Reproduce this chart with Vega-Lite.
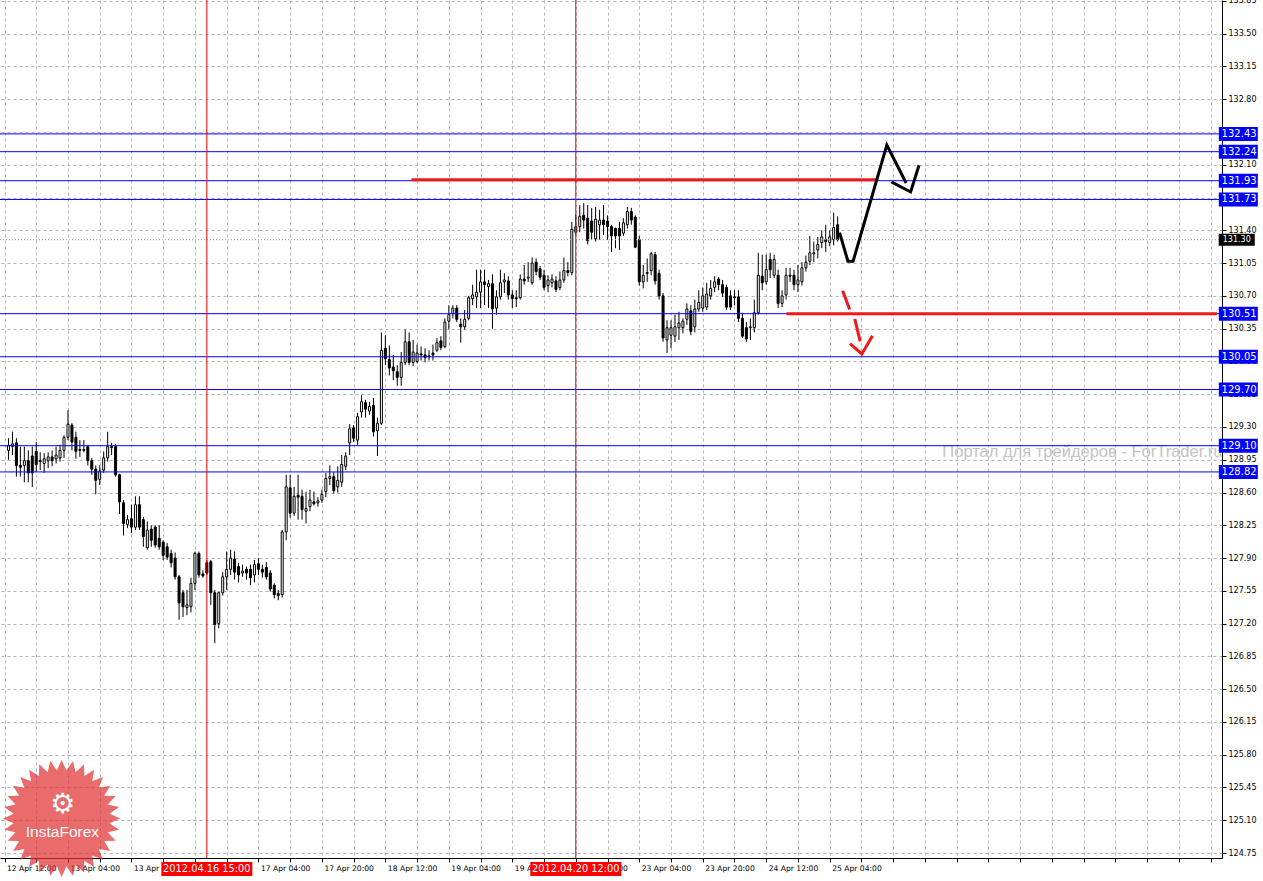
{
  "$schema": "https://vega.github.io/schema/vega-lite/v6.json",
  "width": 1222,
  "height": 858,
  "autosize": {"type": "none"},
  "padding": {"left": 0, "top": 0, "right": 41, "bottom": 23},
  "background": "#ffffff",
  "config": {"view": {"stroke": null}},
  "resolve": {"axis": {"x": "independent", "y": "independent"}},
  "datasets": {
    "candles": [
      {"i":0,"o":129.05,"h":129.18,"l":128.95,"c":129.10},
      {"i":1,"o":129.09,"h":129.25,"l":129.00,"c":129.12},
      {"i":2,"o":129.13,"h":129.18,"l":128.77,"c":128.89},
      {"i":3,"o":128.89,"h":129.09,"l":128.77,"c":128.87},
      {"i":4,"o":128.89,"h":129.09,"l":128.71,"c":128.94},
      {"i":5,"o":128.94,"h":129.05,"l":128.71,"c":128.81},
      {"i":6,"o":128.99,"h":129.09,"l":128.66,"c":128.81},
      {"i":7,"o":129.04,"h":129.14,"l":128.82,"c":128.90},
      {"i":8,"o":128.94,"h":129.03,"l":128.84,"c":128.93},
      {"i":9,"o":128.91,"h":129.02,"l":128.81,"c":128.96},
      {"i":10,"o":128.94,"h":129.03,"l":128.86,"c":128.98},
      {"i":11,"o":128.98,"h":129.05,"l":128.88,"c":128.94},
      {"i":12,"o":128.96,"h":129.09,"l":128.91,"c":129.00},
      {"i":13,"o":128.97,"h":129.11,"l":128.93,"c":129.05},
      {"i":14,"o":129.05,"h":129.21,"l":128.97,"c":129.19},
      {"i":15,"o":129.19,"h":129.48,"l":129.16,"c":129.33},
      {"i":16,"o":129.32,"h":129.34,"l":129.05,"c":129.14},
      {"i":17,"o":129.19,"h":129.25,"l":128.96,"c":129.04},
      {"i":18,"o":129.06,"h":129.16,"l":128.98,"c":129.05},
      {"i":19,"o":129.05,"h":129.16,"l":129.03,"c":129.06},
      {"i":20,"o":129.09,"h":129.10,"l":128.89,"c":128.94},
      {"i":21,"o":128.94,"h":128.97,"l":128.79,"c":128.85},
      {"i":22,"o":128.85,"h":128.89,"l":128.58,"c":128.73},
      {"i":23,"o":128.74,"h":128.89,"l":128.68,"c":128.83},
      {"i":24,"o":128.84,"h":129.04,"l":128.81,"c":128.97},
      {"i":25,"o":128.97,"h":129.25,"l":128.93,"c":129.09},
      {"i":26,"o":129.09,"h":129.13,"l":129.00,"c":129.08},
      {"i":27,"o":129.09,"h":129.12,"l":128.77,"c":128.79},
      {"i":28,"o":128.79,"h":128.80,"l":128.37,"c":128.50},
      {"i":29,"o":128.49,"h":128.52,"l":128.14,"c":128.27},
      {"i":30,"o":128.26,"h":128.36,"l":128.22,"c":128.31},
      {"i":31,"o":128.32,"h":128.47,"l":128.17,"c":128.23},
      {"i":32,"o":128.23,"h":128.56,"l":128.20,"c":128.47},
      {"i":33,"o":128.47,"h":128.56,"l":128.20,"c":128.23},
      {"i":34,"o":128.31,"h":128.34,"l":128.02,"c":128.13},
      {"i":35,"o":128.01,"h":128.29,"l":127.99,"c":128.20},
      {"i":36,"o":128.21,"h":128.25,"l":128.02,"c":128.09},
      {"i":37,"o":128.23,"h":128.25,"l":128.01,"c":128.04},
      {"i":38,"o":128.11,"h":128.25,"l":127.99,"c":128.02},
      {"i":39,"o":128.07,"h":128.09,"l":127.88,"c":127.93},
      {"i":40,"o":128.02,"h":128.06,"l":127.88,"c":127.91},
      {"i":41,"o":127.95,"h":127.99,"l":127.80,"c":127.85},
      {"i":42,"o":127.90,"h":127.96,"l":127.67,"c":127.70},
      {"i":43,"o":127.70,"h":127.72,"l":127.24,"c":127.42},
      {"i":44,"o":127.53,"h":127.56,"l":127.27,"c":127.38},
      {"i":45,"o":127.37,"h":127.56,"l":127.29,"c":127.40},
      {"i":46,"o":127.38,"h":127.69,"l":127.32,"c":127.63},
      {"i":47,"o":127.63,"h":127.97,"l":127.56,"c":127.95},
      {"i":48,"o":127.95,"h":127.97,"l":127.69,"c":127.72},
      {"i":49,"o":127.73,"h":127.77,"l":127.69,"c":127.71},
      {"i":50,"o":127.85,"h":127.88,"l":127.72,"c":127.74},
      {"i":51,"o":127.86,"h":127.88,"l":127.40,"c":127.53},
      {"i":52,"o":127.53,"h":127.56,"l":126.99,"c":127.19},
      {"i":53,"o":127.20,"h":127.54,"l":127.15,"c":127.53},
      {"i":54,"o":127.53,"h":127.75,"l":127.50,"c":127.70},
      {"i":55,"o":127.70,"h":127.97,"l":127.56,"c":127.78},
      {"i":56,"o":127.78,"h":127.99,"l":127.72,"c":127.90},
      {"i":57,"o":127.89,"h":127.97,"l":127.67,"c":127.75},
      {"i":58,"o":127.81,"h":127.85,"l":127.64,"c":127.72},
      {"i":59,"o":127.74,"h":127.83,"l":127.70,"c":127.76},
      {"i":60,"o":127.78,"h":127.81,"l":127.67,"c":127.74},
      {"i":61,"o":127.78,"h":127.83,"l":127.61,"c":127.69},
      {"i":62,"o":127.72,"h":127.88,"l":127.64,"c":127.83},
      {"i":63,"o":127.84,"h":127.90,"l":127.72,"c":127.78},
      {"i":64,"o":127.78,"h":127.83,"l":127.69,"c":127.75},
      {"i":65,"o":127.80,"h":127.86,"l":127.67,"c":127.70},
      {"i":66,"o":127.74,"h":127.77,"l":127.54,"c":127.57},
      {"i":67,"o":127.61,"h":127.63,"l":127.47,"c":127.51},
      {"i":68,"o":127.52,"h":127.56,"l":127.45,"c":127.50},
      {"i":69,"o":127.51,"h":128.20,"l":127.48,"c":128.18},
      {"i":70,"o":128.18,"h":128.79,"l":128.09,"c":128.66},
      {"i":71,"o":128.65,"h":128.79,"l":128.33,"c":128.38},
      {"i":72,"o":128.38,"h":128.66,"l":128.35,"c":128.56},
      {"i":73,"o":128.57,"h":128.79,"l":128.31,"c":128.55},
      {"i":74,"o":128.56,"h":128.63,"l":128.31,"c":128.42},
      {"i":75,"o":128.40,"h":128.61,"l":128.27,"c":128.43},
      {"i":76,"o":128.45,"h":128.63,"l":128.40,"c":128.52},
      {"i":77,"o":128.50,"h":128.61,"l":128.46,"c":128.48},
      {"i":78,"o":128.49,"h":128.55,"l":128.45,"c":128.51},
      {"i":79,"o":128.52,"h":128.63,"l":128.49,"c":128.58},
      {"i":80,"o":128.61,"h":128.81,"l":128.55,"c":128.75},
      {"i":81,"o":128.75,"h":128.89,"l":128.68,"c":128.77},
      {"i":82,"o":128.77,"h":128.82,"l":128.59,"c":128.62},
      {"i":83,"o":128.66,"h":128.88,"l":128.60,"c":128.73},
      {"i":84,"o":128.71,"h":129.00,"l":128.66,"c":128.90},
      {"i":85,"o":128.88,"h":129.03,"l":128.84,"c":128.99},
      {"i":86,"o":129.13,"h":129.33,"l":129.00,"c":129.28},
      {"i":87,"o":129.29,"h":129.32,"l":129.14,"c":129.18},
      {"i":88,"o":129.16,"h":129.45,"l":129.11,"c":129.41},
      {"i":89,"o":129.46,"h":129.64,"l":129.40,"c":129.57},
      {"i":90,"o":129.56,"h":129.59,"l":129.40,"c":129.49},
      {"i":91,"o":129.47,"h":129.57,"l":129.43,"c":129.52},
      {"i":92,"o":129.53,"h":129.61,"l":129.20,"c":129.25},
      {"i":93,"o":129.26,"h":129.40,"l":128.99,"c":129.34},
      {"i":94,"o":129.34,"h":130.31,"l":129.32,"c":130.12},
      {"i":95,"o":130.14,"h":130.28,"l":129.96,"c":130.03},
      {"i":96,"o":130.02,"h":130.17,"l":129.85,"c":129.93},
      {"i":97,"o":129.94,"h":130.07,"l":129.80,"c":129.90},
      {"i":98,"o":129.89,"h":129.96,"l":129.74,"c":129.83},
      {"i":99,"o":129.83,"h":130.10,"l":129.74,"c":129.99},
      {"i":100,"o":129.99,"h":130.34,"l":129.96,"c":130.21},
      {"i":101,"o":130.21,"h":130.31,"l":129.96,"c":129.99},
      {"i":102,"o":129.99,"h":130.23,"l":129.95,"c":130.10},
      {"i":103,"o":130.00,"h":130.18,"l":129.98,"c":130.09},
      {"i":104,"o":130.08,"h":130.16,"l":130.01,"c":130.07},
      {"i":105,"o":130.07,"h":130.14,"l":129.99,"c":130.04},
      {"i":106,"o":130.05,"h":130.12,"l":130.01,"c":130.06},
      {"i":107,"o":130.09,"h":130.18,"l":130.01,"c":130.07},
      {"i":108,"o":130.12,"h":130.25,"l":130.10,"c":130.20},
      {"i":109,"o":130.22,"h":130.27,"l":130.12,"c":130.15},
      {"i":110,"o":130.16,"h":130.46,"l":130.14,"c":130.42},
      {"i":111,"o":130.43,"h":130.60,"l":130.34,"c":130.50},
      {"i":112,"o":130.51,"h":130.60,"l":130.46,"c":130.57},
      {"i":113,"o":130.57,"h":130.60,"l":130.42,"c":130.45},
      {"i":114,"o":130.40,"h":130.46,"l":130.20,"c":130.37},
      {"i":115,"o":130.37,"h":130.55,"l":130.34,"c":130.45},
      {"i":116,"o":130.46,"h":130.70,"l":130.44,"c":130.68},
      {"i":117,"o":130.67,"h":130.82,"l":130.60,"c":130.71},
      {"i":118,"o":130.69,"h":130.98,"l":130.57,"c":130.74},
      {"i":119,"o":130.74,"h":130.98,"l":130.57,"c":130.85},
      {"i":120,"o":130.85,"h":130.98,"l":130.60,"c":130.82},
      {"i":121,"o":130.80,"h":130.87,"l":130.57,"c":130.83},
      {"i":122,"o":130.83,"h":130.93,"l":130.35,"c":130.56},
      {"i":123,"o":130.57,"h":130.76,"l":130.50,"c":130.69},
      {"i":124,"o":130.69,"h":130.98,"l":130.66,"c":130.84},
      {"i":125,"o":130.85,"h":130.94,"l":130.73,"c":130.87},
      {"i":126,"o":130.86,"h":130.91,"l":130.66,"c":130.71},
      {"i":127,"o":130.71,"h":130.76,"l":130.57,"c":130.67},
      {"i":128,"o":130.68,"h":130.76,"l":130.58,"c":130.67},
      {"i":129,"o":130.68,"h":130.93,"l":130.66,"c":130.88},
      {"i":130,"o":130.88,"h":131.03,"l":130.82,"c":130.86},
      {"i":131,"o":130.89,"h":131.06,"l":130.85,"c":130.90},
      {"i":132,"o":130.84,"h":131.11,"l":130.82,"c":131.05},
      {"i":133,"o":131.06,"h":131.10,"l":130.92,"c":130.96},
      {"i":134,"o":130.99,"h":131.02,"l":130.87,"c":130.90},
      {"i":135,"o":130.92,"h":130.98,"l":130.76,"c":130.79},
      {"i":136,"o":130.81,"h":130.92,"l":130.74,"c":130.87},
      {"i":137,"o":130.84,"h":130.93,"l":130.79,"c":130.88},
      {"i":138,"o":130.86,"h":130.91,"l":130.74,"c":130.77},
      {"i":139,"o":130.79,"h":130.96,"l":130.76,"c":130.87},
      {"i":140,"o":130.87,"h":131.11,"l":130.84,"c":130.97},
      {"i":141,"o":130.97,"h":131.06,"l":130.91,"c":130.95},
      {"i":142,"o":130.95,"h":131.49,"l":130.92,"c":131.41},
      {"i":143,"o":131.38,"h":131.57,"l":131.35,"c":131.44},
      {"i":144,"o":131.44,"h":131.67,"l":131.38,"c":131.55},
      {"i":145,"o":131.56,"h":131.69,"l":131.42,"c":131.51},
      {"i":146,"o":131.53,"h":131.67,"l":131.25,"c":131.29},
      {"i":147,"o":131.50,"h":131.64,"l":131.30,"c":131.38},
      {"i":148,"o":131.31,"h":131.65,"l":131.28,"c":131.52},
      {"i":149,"o":131.46,"h":131.62,"l":131.30,"c":131.51},
      {"i":150,"o":131.51,"h":131.67,"l":131.35,"c":131.46},
      {"i":151,"o":131.50,"h":131.56,"l":131.30,"c":131.44},
      {"i":152,"o":131.44,"h":131.46,"l":131.17,"c":131.34},
      {"i":153,"o":131.42,"h":131.43,"l":131.21,"c":131.34},
      {"i":154,"o":131.42,"h":131.49,"l":131.19,"c":131.34},
      {"i":155,"o":131.37,"h":131.53,"l":131.34,"c":131.48},
      {"i":156,"o":131.46,"h":131.65,"l":131.42,"c":131.60},
      {"i":157,"o":131.60,"h":131.64,"l":131.46,"c":131.51},
      {"i":158,"o":131.54,"h":131.56,"l":131.21,"c":131.22},
      {"i":159,"o":131.30,"h":131.34,"l":130.81,"c":130.85},
      {"i":160,"o":130.85,"h":131.03,"l":130.78,"c":130.92},
      {"i":161,"o":130.94,"h":131.10,"l":130.85,"c":130.95},
      {"i":162,"o":130.97,"h":131.17,"l":130.92,"c":131.15},
      {"i":163,"o":131.14,"h":131.17,"l":130.82,"c":130.86},
      {"i":164,"o":130.94,"h":130.98,"l":130.66,"c":130.70},
      {"i":165,"o":130.70,"h":130.73,"l":130.21,"c":130.25},
      {"i":166,"o":130.23,"h":130.44,"l":130.09,"c":130.36},
      {"i":167,"o":130.28,"h":130.44,"l":130.14,"c":130.36},
      {"i":168,"o":130.27,"h":130.50,"l":130.21,"c":130.37},
      {"i":169,"o":130.36,"h":130.53,"l":130.23,"c":130.41},
      {"i":170,"o":130.36,"h":130.46,"l":130.30,"c":130.43},
      {"i":171,"o":130.45,"h":130.62,"l":130.39,"c":130.56},
      {"i":172,"o":130.54,"h":130.60,"l":130.28,"c":130.32},
      {"i":173,"o":130.37,"h":130.66,"l":130.31,"c":130.56},
      {"i":174,"o":130.56,"h":130.76,"l":130.53,"c":130.63},
      {"i":175,"o":130.57,"h":130.79,"l":130.53,"c":130.70},
      {"i":176,"o":130.58,"h":130.84,"l":130.55,"c":130.72},
      {"i":177,"o":130.70,"h":130.87,"l":130.66,"c":130.78},
      {"i":178,"o":130.79,"h":130.91,"l":130.74,"c":130.85},
      {"i":179,"o":130.88,"h":130.90,"l":130.76,"c":130.82},
      {"i":180,"o":130.82,"h":130.87,"l":130.69,"c":130.73},
      {"i":181,"o":130.79,"h":130.82,"l":130.55,"c":130.58},
      {"i":182,"o":130.70,"h":130.76,"l":130.55,"c":130.58},
      {"i":183,"o":130.69,"h":130.76,"l":130.60,"c":130.68},
      {"i":184,"o":130.69,"h":130.76,"l":130.42,"c":130.46},
      {"i":185,"o":130.46,"h":130.52,"l":130.25,"c":130.27},
      {"i":186,"o":130.36,"h":130.42,"l":130.21,"c":130.24},
      {"i":187,"o":130.36,"h":130.46,"l":130.23,"c":130.37},
      {"i":188,"o":130.36,"h":130.66,"l":130.31,"c":130.52},
      {"i":189,"o":130.52,"h":131.16,"l":130.50,"c":130.92},
      {"i":190,"o":130.91,"h":131.14,"l":130.76,"c":130.84},
      {"i":191,"o":130.85,"h":131.14,"l":130.82,"c":130.98},
      {"i":192,"o":131.09,"h":131.16,"l":130.89,"c":130.98},
      {"i":193,"o":130.92,"h":131.14,"l":130.89,"c":131.09},
      {"i":194,"o":130.92,"h":130.98,"l":130.57,"c":130.62},
      {"i":195,"o":130.62,"h":130.76,"l":130.58,"c":130.70},
      {"i":196,"o":130.71,"h":131.00,"l":130.66,"c":130.92},
      {"i":197,"o":130.92,"h":131.00,"l":130.85,"c":130.91},
      {"i":198,"o":130.92,"h":130.98,"l":130.76,"c":130.82},
      {"i":199,"o":130.82,"h":131.03,"l":130.74,"c":130.87},
      {"i":200,"o":130.85,"h":131.06,"l":130.81,"c":131.00},
      {"i":201,"o":131.00,"h":131.13,"l":130.96,"c":131.06},
      {"i":202,"o":131.07,"h":131.34,"l":131.03,"c":131.16},
      {"i":203,"o":131.15,"h":131.28,"l":131.06,"c":131.16},
      {"i":204,"o":131.19,"h":131.33,"l":131.10,"c":131.25},
      {"i":205,"o":131.27,"h":131.40,"l":131.21,"c":131.33},
      {"i":206,"o":131.30,"h":131.46,"l":131.17,"c":131.28},
      {"i":207,"o":131.27,"h":131.40,"l":131.23,"c":131.33},
      {"i":208,"o":131.30,"h":131.59,"l":131.24,"c":131.43},
      {"i":209,"o":131.46,"h":131.55,"l":131.28,"c":131.30}
    ],
    "levels": [{"p":132.43},{"p":132.24},{"p":131.93},{"p":131.73},{"p":130.51},{"p":130.05},{"p":129.70},{"p":129.10},{"p":128.82}],
    "bid": [{"p":131.30}],
    "vlines": [{"i":50,"t":"2012.04.16 15:00"},{"i":143,"t":"2012.04.20 12:00"}],
    "redsegs": [{"i":101.6,"i2":219.1,"p":131.94},{"i":196.1,"i2":304.625,"p":130.51}],
    "fcBlack": [
      {"s":"a","k":1,"i":209.6,"p":131.36},
      {"s":"a","k":2,"i":211.6,"p":131.07},
      {"s":"a","k":3,"i":212.9,"p":131.07},
      {"s":"a","k":4,"i":221.4,"p":132.31},
      {"s":"a","k":5,"i":226.1,"p":131.92},
      {"s":"b","k":1,"i":222.9,"p":131.91},
      {"s":"b","k":2,"i":227.4,"p":131.81},
      {"s":"b","k":3,"i":229.4,"p":132.08}
    ],
    "fcRed": [
      {"s":"a","k":1,"i":210.4,"p":130.74},
      {"s":"a","k":2,"i":211.9,"p":130.57},
      {"s":"b","k":1,"i":213.4,"p":130.44},
      {"s":"b","k":2,"i":214.6,"p":130.23},
      {"s":"c","k":1,"i":212.4,"p":130.18},
      {"s":"c","k":2,"i":215.1,"p":130.08},
      {"s":"c","k":3,"i":217.6,"p":130.26}
    ]
  },
  "layer": [
    {
      "data": {"name": "candles"},
      "mark": {"type": "rule", "color": "#000000", "strokeWidth": 1},
      "encoding": {
        "x": {"field": "i", "type": "quantitative", "scale": {"domain": [-0.875, 304.625], "nice": false, "zero": false}, "title": null,
          "axis": {
            "values": [-1,7,15,23,31,39,47,55,63,71,79,87,95,103,111,119,127,135,143,151,159,167,175,183,191,199,207,215,223,231,239,247,255,263,271,279,287,295,303],
            "labelExpr": "(datum.value + 1) % 16 == 0 ? (['12 Apr 12:00','13 Apr 04:00','13 Apr 20:00','16 Apr 12:00','17 Apr 04:00','17 Apr 20:00','18 Apr 12:00','19 Apr 04:00','19 Apr 20:00','20 Apr 12:00','23 Apr 04:00','23 Apr 20:00','24 Apr 12:00','25 Apr 04:00'][(datum.value + 1) / 16] || '') : ''",
            "grid": true, "gridColor": "#b4b4bc", "gridDash": [3, 3], "gridWidth": 1,
            "domainColor": "#000000", "domainWidth": 1,
            "tickColor": "#000000", "tickSize": 4, "tickWidth": 1,
            "labelAlign": "left", "labelOffset": 2, "labelPadding": 2, "labelBaseline": "top",
            "labelFont": "DejaVu Sans", "labelFontSize": 7.6, "labelColor": "#000000",
            "labelOverlap": false, "labelFlush": false, "labelBound": false
          }
        },
        "y": {"field": "l", "type": "quantitative", "scale": {"domain": [124.697, 133.86], "nice": false, "zero": false}, "title": null,
          "axis": {
            "orient": "right",
            "values": [124.75,125.10,125.45,125.80,126.15,126.50,126.85,127.20,127.55,127.90,128.25,128.60,128.95,129.30,129.65,130.00,130.35,130.70,131.05,131.40,131.75,132.10,132.45,132.80,133.15,133.50,133.85],
            "format": ".2f",
            "grid": true, "gridColor": "#b4b4bc", "gridDash": [3, 3], "gridWidth": 1,
            "domainColor": "#000000", "domainWidth": 1,
            "tickColor": "#000000", "tickSize": 4, "tickWidth": 1,
            "labelPadding": 2, "labelBaseline": "middle",
            "labelFont": "DejaVu Sans", "labelFontSize": 8, "labelColor": "#000000",
            "labelOverlap": false, "labelFlush": false, "labelBound": false
          }
        },
        "y2": {"field": "h"}
      }
    },
    {
      "data": {"values": [{}]},
      "mark": {"type": "text", "align": "left", "baseline": "middle", "font": "Liberation Sans", "fontSize": 16.5, "color": "#c4c4c4"},
      "encoding": {
        "x": {"datum": 235.4, "type": "quantitative", "scale": {"domain": [-0.875, 304.625], "nice": false, "zero": false}, "axis": null, "title": null},
        "y": {"datum": 129.03, "type": "quantitative", "scale": {"domain": [124.697, 133.86], "nice": false, "zero": false}, "axis": null, "title": null},
        "text": {"value": "Портал для трейдеров - ForTrader.ru"}
      }
    },
    {
      "data": {"name": "candles"},
      "mark": {"type": "bar", "width": 2, "stroke": "#000000", "strokeWidth": 1},
      "encoding": {
        "x": {"field": "i", "type": "quantitative", "scale": {"domain": [-0.875, 304.625], "nice": false, "zero": false}, "axis": null, "title": null},
        "y": {"field": "o", "type": "quantitative", "scale": {"domain": [124.697, 133.86], "nice": false, "zero": false}, "axis": null, "title": null},
        "y2": {"field": "c"},
        "fill": {"condition": {"test": "datum.c > datum.o", "value": "#ffffff"}, "value": "#000000"}
      }
    },
    {
      "data": {"name": "bid"},
      "mark": {"type": "rule", "color": "#9a9a9a", "strokeWidth": 1, "strokeDash": [1, 2]},
      "encoding": {
        "y": {"field": "p", "type": "quantitative", "scale": {"domain": [124.697, 133.86], "nice": false, "zero": false}, "axis": null, "title": null}
      }
    },
    {
      "data": {"name": "levels"},
      "mark": {"type": "rule", "color": "#0000ff", "strokeWidth": 1},
      "encoding": {
        "y": {"field": "p", "type": "quantitative", "scale": {"domain": [124.697, 133.86], "nice": false, "zero": false}, "axis": null, "title": null}
      }
    },
    {
      "data": {"name": "vlines"},
      "mark": {"type": "rule", "color": "#e00000", "strokeWidth": 1},
      "encoding": {
        "x": {"field": "i", "type": "quantitative", "scale": {"domain": [-0.875, 304.625], "nice": false, "zero": false}, "axis": null, "title": null}
      }
    },
    {
      "data": {"name": "redsegs"},
      "mark": {"type": "rule", "color": "#f01818", "strokeWidth": 3},
      "encoding": {
        "x": {"field": "i", "type": "quantitative", "scale": {"domain": [-0.875, 304.625], "nice": false, "zero": false}, "axis": null, "title": null},
        "x2": {"field": "i2"},
        "y": {"field": "p", "type": "quantitative", "scale": {"domain": [124.697, 133.86], "nice": false, "zero": false}, "axis": null, "title": null}
      }
    },
    {
      "data": {"name": "fcBlack"},
      "mark": {"type": "line", "color": "#000000", "strokeWidth": 3, "strokeCap": "square", "strokeJoin": "miter"},
      "encoding": {
        "x": {"field": "i", "type": "quantitative", "scale": {"domain": [-0.875, 304.625], "nice": false, "zero": false}, "axis": null, "title": null},
        "y": {"field": "p", "type": "quantitative", "scale": {"domain": [124.697, 133.86], "nice": false, "zero": false}, "axis": null, "title": null},
        "detail": {"field": "s", "type": "nominal"},
        "order": {"field": "k", "type": "quantitative"}
      }
    },
    {
      "data": {"name": "fcRed"},
      "mark": {"type": "line", "color": "#f01818", "strokeWidth": 3, "strokeCap": "square", "strokeJoin": "miter"},
      "encoding": {
        "x": {"field": "i", "type": "quantitative", "scale": {"domain": [-0.875, 304.625], "nice": false, "zero": false}, "axis": null, "title": null},
        "y": {"field": "p", "type": "quantitative", "scale": {"domain": [124.697, 133.86], "nice": false, "zero": false}, "axis": null, "title": null},
        "detail": {"field": "s", "type": "nominal"},
        "order": {"field": "k", "type": "quantitative"}
      }
    },
    {
      "data": {"name": "levels"},
      "mark": {"type": "tick", "orient": "horizontal", "size": 39, "thickness": 14, "color": "#0000ff", "opacity": 1},
      "encoding": {
        "x": {"datum": 310, "type": "quantitative", "scale": {"domain": [-0.875, 304.625], "nice": false, "zero": false}, "axis": null, "title": null},
        "y": {"field": "p", "type": "quantitative", "scale": {"domain": [124.697, 133.86], "nice": false, "zero": false}, "axis": null, "title": null}
      }
    },
    {
      "data": {"name": "levels"},
      "mark": {"type": "text", "align": "center", "baseline": "middle", "font": "DejaVu Sans", "fontSize": 10, "color": "#ffffff"},
      "encoding": {
        "x": {"datum": 310.2, "type": "quantitative", "scale": {"domain": [-0.875, 304.625], "nice": false, "zero": false}, "axis": null, "title": null},
        "y": {"field": "p", "type": "quantitative", "scale": {"domain": [124.697, 133.86], "nice": false, "zero": false}, "axis": null, "title": null},
        "text": {"field": "p", "type": "quantitative", "format": ".2f"}
      }
    },
    {
      "data": {"name": "bid"},
      "mark": {"type": "tick", "orient": "horizontal", "size": 36, "thickness": 12, "color": "#000000", "opacity": 1},
      "encoding": {
        "x": {"datum": 309.6, "type": "quantitative", "scale": {"domain": [-0.875, 304.625], "nice": false, "zero": false}, "axis": null, "title": null},
        "y": {"field": "p", "type": "quantitative", "scale": {"domain": [124.697, 133.86], "nice": false, "zero": false}, "axis": null, "title": null}
      }
    },
    {
      "data": {"name": "bid"},
      "mark": {"type": "text", "align": "center", "baseline": "middle", "font": "DejaVu Sans", "fontSize": 8, "color": "#ffffff"},
      "encoding": {
        "x": {"datum": 309.6, "type": "quantitative", "scale": {"domain": [-0.875, 304.625], "nice": false, "zero": false}, "axis": null, "title": null},
        "y": {"field": "p", "type": "quantitative", "scale": {"domain": [124.697, 133.86], "nice": false, "zero": false}, "axis": null, "title": null},
        "text": {"field": "p", "type": "quantitative", "format": ".2f"}
      }
    },
    {
      "data": {"name": "vlines"},
      "mark": {"type": "tick", "orient": "horizontal", "size": 91, "thickness": 14, "color": "#ff0000", "opacity": 1},
      "encoding": {
        "x": {"field": "i", "type": "quantitative", "scale": {"domain": [-0.875, 304.625], "nice": false, "zero": false}, "axis": null, "title": null},
        "y": {"datum": 124.58, "type": "quantitative", "scale": {"domain": [124.697, 133.86], "nice": false, "zero": false}, "axis": null, "title": null}
      }
    },
    {
      "data": {"name": "vlines"},
      "mark": {"type": "text", "align": "center", "baseline": "middle", "font": "DejaVu Sans", "fontSize": 9.8, "color": "#ffffff"},
      "encoding": {
        "x": {"field": "i", "type": "quantitative", "scale": {"domain": [-0.875, 304.625], "nice": false, "zero": false}, "axis": null, "title": null},
        "y": {"datum": 124.58, "type": "quantitative", "scale": {"domain": [124.697, 133.86], "nice": false, "zero": false}, "axis": null, "title": null},
        "text": {"field": "t", "type": "nominal"}
      }
    },
    {
      "data": {"values": [{}]},
      "mark": {"type": "point", "filled": true, "color": "#e03232", "opacity": 0.72, "strokeWidth": 0,
        "shape": "M1,0L0.82,0.081L0.981,0.195L0.788,0.239L0.924,0.383L0.726,0.388L0.831,0.556L0.636,0.522L0.707,0.707L0.522,0.636L0.556,0.831L0.388,0.726L0.383,0.924L0.239,0.788L0.195,0.981L0.081,0.82L0,1L-0.081,0.82L-0.195,0.981L-0.239,0.788L-0.383,0.924L-0.388,0.726L-0.556,0.831L-0.522,0.636L-0.707,0.707L-0.636,0.522L-0.831,0.556L-0.726,0.388L-0.924,0.383L-0.788,0.239L-0.981,0.195L-0.82,0.081L-1,0L-0.82,-0.081L-0.981,-0.195L-0.788,-0.239L-0.924,-0.383L-0.726,-0.388L-0.831,-0.556L-0.636,-0.522L-0.707,-0.707L-0.522,-0.636L-0.556,-0.831L-0.388,-0.726L-0.383,-0.924L-0.239,-0.788L-0.195,-0.981L-0.081,-0.82L0,-1L0.081,-0.82L0.195,-0.981L0.239,-0.788L0.383,-0.924L0.388,-0.726L0.556,-0.831L0.522,-0.636L0.707,-0.707L0.636,-0.522L0.831,-0.556L0.726,-0.388L0.924,-0.383L0.788,-0.239L0.981,-0.195L0.82,-0.081Z",
        "size": 13689},
      "encoding": {
        "x": {"datum": 13.4, "type": "quantitative", "scale": {"domain": [-0.875, 304.625], "nice": false, "zero": false}, "axis": null, "title": null},
        "y": {"datum": 125.12, "type": "quantitative", "scale": {"domain": [124.697, 133.86], "nice": false, "zero": false}, "axis": null, "title": null}
      }
    },
    {
      "data": {"values": [{}]},
      "mark": {"type": "text", "align": "center", "baseline": "middle", "font": "DejaVu Sans", "fontSize": 28, "color": "#ffffff"},
      "encoding": {
        "x": {"datum": 13.6, "type": "quantitative", "scale": {"domain": [-0.875, 304.625], "nice": false, "zero": false}, "axis": null, "title": null},
        "y": {"datum": 125.26, "type": "quantitative", "scale": {"domain": [124.697, 133.86], "nice": false, "zero": false}, "axis": null, "title": null},
        "text": {"value": "⚙"}
      }
    },
    {
      "data": {"values": [{}]},
      "mark": {"type": "text", "align": "center", "baseline": "middle", "font": "Liberation Sans", "fontSize": 15.5, "color": "#ffffff"},
      "encoding": {
        "x": {"datum": 13.6, "type": "quantitative", "scale": {"domain": [-0.875, 304.625], "nice": false, "zero": false}, "axis": null, "title": null},
        "y": {"datum": 124.98, "type": "quantitative", "scale": {"domain": [124.697, 133.86], "nice": false, "zero": false}, "axis": null, "title": null},
        "text": {"value": "InstaForex"}
      }
    }
  ]
}
